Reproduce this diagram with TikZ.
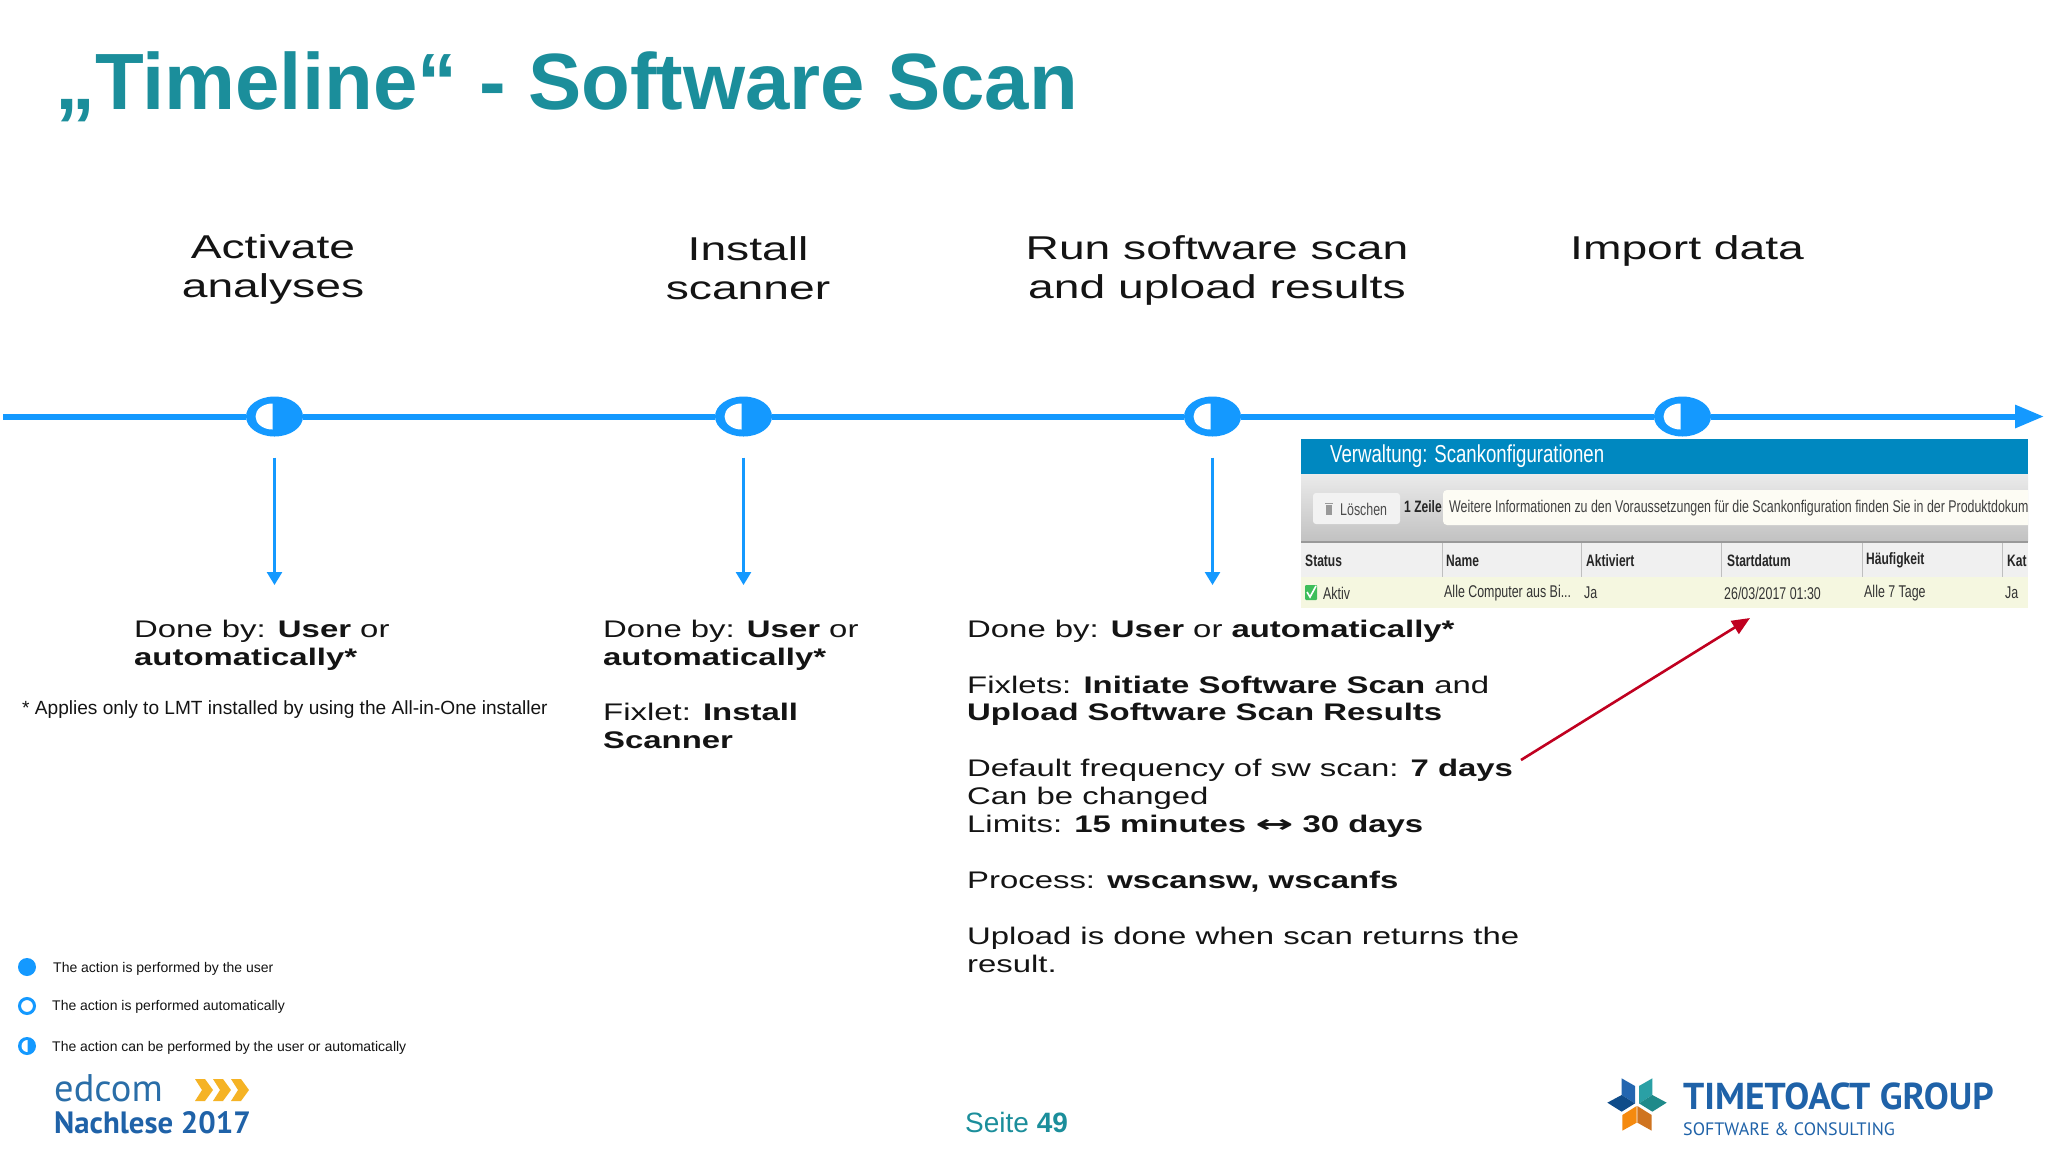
\documentclass[tikz,border=0pt]{standalone}
\usepackage{fontspec}
\setmainfont{Liberation Sans}
\usetikzlibrary{shapes.geometric,arrows.meta}
\newfontfamily\headf[FakeStretch=1.4]{Liberation Sans}
\newfontfamily\widef[FakeStretch=1.37]{Liberation Sans}
\newfontfamily\narrowf[FakeStretch=0.73]{Liberation Sans}
\newfontfamily\titlef[FakeStretch=0.76]{Liberation Sans}
\newfontfamily\dinf{PT Sans}
\newfontfamily\symf[FakeStretch=1.9]{DejaVu Sans}
\definecolor{tlblue}{HTML}{1499FF}
\definecolor{teal1}{HTML}{1B8E9B}
\definecolor{hdrblue}{HTML}{0088C0}
\definecolor{redarrow}{HTML}{C00020}
\definecolor{logoblue}{HTML}{1F62A8}
\definecolor{edblue}{HTML}{2A6EA8}
\definecolor{bodyc}{HTML}{141414}
\definecolor{rowgreen}{HTML}{F5F7E0}
\definecolor{infobg}{HTML}{FDFCF4}
\definecolor{checkgreen}{HTML}{3DBE5A}
\definecolor{chev}{HTML}{F5B325}
\definecolor{lgA}{HTML}{2366B0}
\definecolor{lgB}{HTML}{0F4C8A}
\definecolor{lgC}{HTML}{2AA0A5}
\definecolor{lgD}{HTML}{1F8A8A}
\definecolor{lgE}{HTML}{F58A0F}
\definecolor{lgF}{HTML}{CF7420}
\tikzset{
  px/.style={x=1pt,y=-1pt},
  halfnode/.style={ellipse,fill=tlblue,minimum width=57pt,minimum height=40pt,inner sep=0pt,
    path picture={\fill[white] ([xshift=-2pt,yshift=13pt]path picture bounding box.center)
      arc[start angle=90,end angle=270,x radius=17pt,y radius=13pt] -- cycle;}},
  tline/.style={draw=tlblue,line width=6pt},
  downarrow/.style={draw=tlblue,line width=2.6pt,-{Triangle[length=13pt,width=15pt]},shorten <=21pt},
  heading/.style={font=\headf\fontsize{33}{39}\selectfont,align=center,text=bodyc,inner sep=0pt},
  bodytext/.style={font=\widef\fontsize{24}{27.9}\selectfont,align=left,text=bodyc,inner sep=0pt,anchor=north west},
  legendtext/.style={font=\fontsize{14}{17}\selectfont,text=bodyc,inner sep=0pt,anchor=west},
  legfull/.style={circle,fill=tlblue,minimum size=18pt,inner sep=0pt},
  legring/.style={circle,draw=tlblue,line width=3pt,fill=white,minimum size=15pt,inner sep=0pt},
  leghalf/.style={circle,fill=tlblue,minimum size=18pt,inner sep=0pt,
    path picture={\fill[white] ([xshift=0.5pt,yshift=6pt]path picture bounding box.center)
      arc[start angle=90,end angle=270,x radius=6pt,y radius=6pt] -- cycle;}},
  shot/.style={font=\narrowf\fontsize{17}{20}\selectfont,text=black!80,inner sep=0pt,anchor=west},
  shothead/.style={font=\narrowf\bfseries\fontsize{16.5}{20}\selectfont,text=black!85,inner sep=0pt,anchor=west},
}
\begin{document}
\begin{tikzpicture}[px]
\useasboundingbox (0,0) rectangle (2048,1152);
\fill[white] (0,0) rectangle (2048,1152);

% title
\node[font=\bfseries\fontsize{79.8}{90}\selectfont,text=teal1,inner sep=0pt,anchor=base west] (title) at (55,109.5) {„Timeline“ - Software Scan};

% headings
\node[heading] (h1) at (273,269) {Activate\\analyses};
\node[heading] (h2) at (748,268.5) {Install\\scanner};
\node[heading] (h3) at (1217,270) {Run software scan\\and upload results};
\node[heading,anchor=base] (h4) at (1687,259) {Import data};

% timeline
\coordinate (tlstart) at (3,416.5);
\coordinate (tlend) at (2044,416.5);
\node[halfnode] (c1) at (274.5,416.5) {};
\node[halfnode] (c2) at (743.5,416.5) {};
\node[halfnode] (c3) at (1212.5,416.5) {};
\node[halfnode] (c4) at (1682.5,416.5) {};
\draw[tline] (tlstart) -- (c1);
\draw[tline] (c1) -- (c2);
\draw[tline] (c2) -- (c3);
\draw[tline] (c3) -- (c4);
\draw[tline,-{Triangle[length=29pt,width=22pt]}] (c4) -- (tlend);

% down arrows
\coordinate (d1) at (274.5,585);
\coordinate (d2) at (743.5,585);
\coordinate (d3) at (1212.5,585);
\draw[downarrow] (c1.south) -- (d1);
\draw[downarrow] (c2.south) -- (d2);
\draw[downarrow] (c3.south) -- (d3);

% body text
\node[bodytext] (b1) at (134,619.5) {Done by: \textbf{User} or\\\textbf{automatically*}};
\node[font=\fontsize{19.1}{24}\selectfont,text=bodyc,inner sep=0pt,anchor=base west] (note) at (22,714) {* Applies only to LMT installed by using the All-in-One installer};
\node[bodytext] (b2) at (603,619.5) {Done by: \textbf{User} or\\\textbf{automatically*}\\[28pt]Fixlet: \textbf{Install}\\\textbf{Scanner}};
\node[bodytext] (b3) at (967,619.5) {Done by: \textbf{User} or \textbf{automatically*}\\[28pt]Fixlets: \textbf{Initiate Software Scan} and\\\textbf{Upload Software Scan Results}\\[28pt]Default frequency of sw scan: \textbf{7 days}\\Can be changed\\Limits: \textbf{15 minutes {\symf ↔} 30 days}\\[28pt]Process: \textbf{wscansw, wscanfs}\\[28pt]Upload is done when scan returns the\\result.};

% screenshot
\begin{scope}
\clip (1301,439) rectangle (2028,608);
\fill[hdrblue] (1301,439) rectangle (2028,474);
\shade[top color=black!8,bottom color=black!24] (1301,474) rectangle (2028,541);
\fill[black!40] (1301,541) rectangle (2028,543);
\fill[black!6] (1301,543) rectangle (2028,577);
\fill[rowgreen] (1301,577) rectangle (2028,608);
\foreach \sx in {1442,1581,1721,1862,2002} \draw[black!25,line width=0.8pt] (\sx,543) -- (\sx,577);
\fill[rounded corners=3pt,black!5] (1313,493) rectangle (1400,524);
\fill[rounded corners=4pt,infobg] (1443,490) rectangle (2040,525);
\fill[black!40] (1326,505) rectangle (1332,515);
\fill[black!40] (1325,502.5) rectangle (1333,504);
\fill[rounded corners=1pt,checkgreen] (1305,585) rectangle (1317,600);
\draw[white,line width=1.6pt] (1307,592) -- (1310,597) -- (1316,586);
\node[font=\titlef\fontsize{24.5}{28}\selectfont,text=white,inner sep=0pt,anchor=west] (shottitle) at (1330,456) {Verwaltung: Scankonfigurationen};
\node[shot,text=black!70] (del) at (1340,509) {Löschen};
\node[shothead] (zeile) at (1404,507) {1 Zeile};
\node[shot,text=black!75] (info) at (1449,508) {Weitere Informationen zu den Voraussetzungen für die Scankonfiguration finden Sie in der Produktdokum};
\node[shothead] (h-a) at (1305,561) {Status};
\node[shothead] (h-b) at (1446,561) {Name};
\node[shothead] (h-c) at (1586,561) {Aktiviert};
\node[shothead] (h-d) at (1727,561) {Startdatum};
\node[shothead] (h-e) at (1866,560) {Häufigkeit};
\node[shothead] (h-f) at (2007,561) {Kat};
\node[shot] (r-a) at (1323,593) {Aktiv};
\node[shot] (r-b) at (1444,593) {Alle Computer aus Bi...};
\node[shot] (r-c) at (1584,593) {Ja};
\node[shot] (r-d) at (1724,593) {26/03/2017 01:30};
\node[shot] (r-e) at (1864,593) {Alle 7 Tage};
\node[shot] (r-f) at (2005,593) {Ja};
\end{scope}

% red arrow
\coordinate (redfrom) at (1521,760);
\coordinate (redto) at (1750,618);
\draw[redarrow,line width=2.6pt,-{Triangle[length=18pt,width=15pt]}] (redfrom) -- (redto);

% legend
\node[legfull] (l1) at (27,967) {};
\node[legring] (l2) at (27,1006) {};
\node[leghalf] (l3) at (27,1046) {};
\node[legendtext] (lt1) at (53,968.5) {The action is performed by the user};
\node[legendtext] (lt2) at (52,1007) {The action is performed automatically};
\node[legendtext] (lt3) at (52,1047.5) {The action can be performed by the user or automatically};

% edcom
\node[font=\dinf\fontsize{38.5}{40}\selectfont,text=edblue,inner sep=0pt,anchor=base west] (edcom) at (54,1101) {edcom};
\node[font=\dinf\bfseries\fontsize{30.8}{32}\selectfont,text=logoblue,inner sep=0pt,anchor=base west] (nach) at (54,1133) {Nachlese 2017};
\foreach \ox in {0,18,36} {
  \fill[chev,shift={(\ox,0)}] (195,1079) -- (205,1079) -- (213,1090) -- (205,1101) -- (195,1101) -- (202,1090) -- cycle;
}

% footer
\node[font=\fontsize{28}{32}\selectfont,text=teal1,inner sep=0pt,anchor=base west] (seite) at (965,1132) {Seite \textbf{49}};

% logo
\begin{scope}[shift={(1580,1050)},x=0.3333pt,y=-0.3333pt]
\fill[lgA] (125,85) -- (165,108) -- (165,160) -- (125,135) -- cycle;
\fill[lgB] (82,158) -- (125,135) -- (165,160) -- (125,185) -- cycle;
\fill[lgC] (217,85) -- (177,108) -- (177,160) -- (217,135) -- cycle;
\fill[lgD] (177,160) -- (217,135) -- (260,158) -- (217,185) -- cycle;
\fill[lgE] (127,195) -- (170,168) -- (170,218) -- (127,242) -- cycle;
\fill[lgF] (172,168) -- (215,195) -- (215,242) -- (172,218) -- cycle;
\end{scope}
\node[font=\dinf\bfseries\fontsize{37.4}{40}\selectfont,text=logoblue,inner sep=0pt,anchor=base west] (tta) at (1683,1109) {TIMETOACT GROUP};
\node[font=\dinf\fontsize{18}{20}\selectfont,text=logoblue,inner sep=0pt,anchor=base west] (swc) at (1683,1135) {SOFTWARE \& CONSULTING};
\end{tikzpicture}
\end{document}
